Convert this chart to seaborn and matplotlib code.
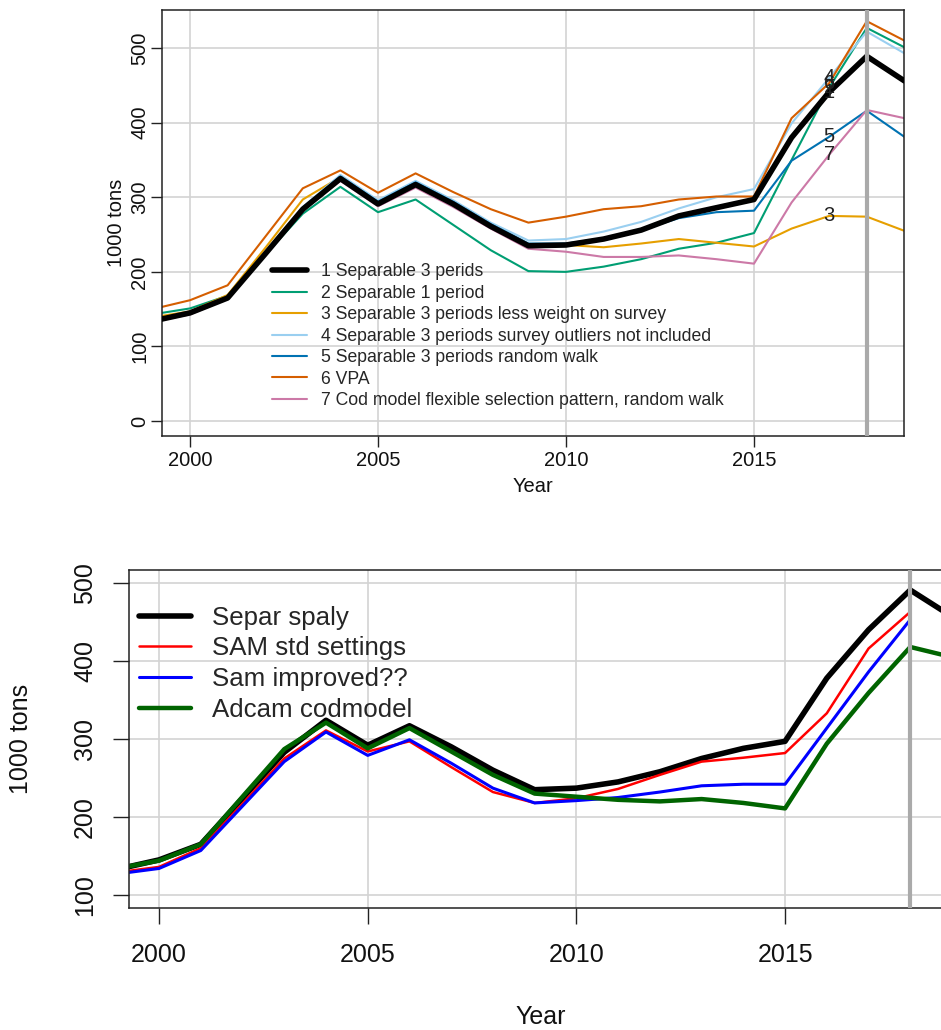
import numpy as np
import pandas as pd
import matplotlib
matplotlib.use("Agg")
import matplotlib.pyplot as plt
import seaborn as sns

years = list(range(1999, 2020))

# ---- top panel series (1000 tons) ----
s1 = [134, 145, 165, 224, 284, 325, 291, 317, 291, 261, 235, 236, 244, 256, 275, 286, 297, 380, 441, 489, 456]
s2 = [143, 151, 168, 223, 278, 314, 280, 297, 263, 229, 201, 200, 207, 217, 231, 239, 252, 350, 447, 527, 501]
s3 = [139, 147, 169, 232, 297, 327, 293, 320, 294, 264, 237, 236, 233, 238, 244, 239, 234, 258, 275, 274, 255]
s4 = [135, 146, 166, 226, 287, 330, 296, 322, 296, 266, 242, 244, 254, 267, 285, 300, 311, 399, 460, 522, 493]
s5 = [135, 146, 166, 226, 286, 328, 294, 320, 294, 264, 238, 238, 245, 256, 272, 280, 282, 349, 381, 416, 381]
s6 = [150, 162, 182, 247, 312, 336, 306, 332, 307, 284, 266, 274, 284, 288, 297, 301, 301, 406, 453, 536, 510]
s7 = [133, 143, 164, 224, 283, 322, 288, 313, 287, 258, 231, 227, 220, 220, 222, 217, 211, 293, 357, 417, 406]
top_labels = ["1 Separable 3 perids", "2 Separable 1 period",
              "3 Separable 3 periods less weight on survey",
              "4 Separable 3 periods survey outliers not included",
              "5 Separable 3 periods random walk", "6 VPA",
              "7 Cod model flexible selection pattern, random walk"]
top_colors = ["#000000", "#009E73", "#E69F00", "#9ACFF0", "#0072B2", "#D55E00", "#CC79A7"]
top_series = [s1, s2, s3, s4, s5, s6, s7]

# ---- bottom panel series ----
b_black = [133, 145, 165, 224, 283, 324, 292, 317, 290, 260, 235, 237, 245, 258, 275, 288, 297, 378, 440, 491, 457]
b_red = [129, 136, 160, 217, 275, 311, 284, 297, 264, 232, 218, 224, 236, 254, 271, 276, 282, 333, 416, 463, np.nan]
b_blue = [127, 134, 157, 214, 271, 309, 279, 299, 269, 237, 218, 221, 225, 232, 240, 242, 242, 314, 386, 453, np.nan]
b_green = [134, 144, 165, 226, 287, 321, 288, 314, 284, 254, 230, 226, 222, 220, 223, 218, 211, 294, 359, 418, 405]
bot_labels = ["Separ spaly", "SAM std settings", "Sam improved??", "Adcam codmodel"]
bot_colors = ["#000000", "#FF0000", "#0000FF", "#006400"]
bot_series = [b_black, b_red, b_blue, b_green]

xticks = [2000, 2005, 2010, 2015]
label_year = 2017
ref_year = 2018

sns.set_theme(style="white")
plt.rcParams["font.family"] = ["Liberation Sans", "DejaVu Sans"]

fig = plt.figure(figsize=(9.41, 10.30), dpi=100)

GRID = "#d3d3d3"

def style_axes(ax, tick_len, fs, xpad, ypad):
    ax.grid(True, color=GRID, lw=1.2)
    ax.set_axisbelow(True)
    for sp in ax.spines.values():
        sp.set_visible(True)
        sp.set_color("#222222")
        sp.set_linewidth(1.1)
    ax.tick_params(axis="both", which="both", direction="out", length=tick_len,
                   width=1.0, color="#222222", labelsize=fs, bottom=True, left=True,
                   top=False, right=False, labelcolor="#111111")
    ax.tick_params(axis="x", pad=xpad)
    ax.tick_params(axis="y", pad=ypad)
    for t in ax.get_yticklabels():
        t.set_rotation(90)
        t.set_va("center")

# ---------------- top panel ----------------
ax1 = fig.add_axes([162 / 941, 1 - 436 / 1030, 742 / 941, 426 / 1030])
lws_top = [4.0, 1.5, 1.5, 1.5, 1.5, 1.5, 1.5]
zs_top = [4, 2, 2, 2, 2, 2, 2]
for s, lab, col, lw, z in zip(top_series, top_labels, top_colors, lws_top, zs_top):
    df = pd.DataFrame({"Year": years, "val": s})
    sns.lineplot(data=df, x="Year", y="val", color=col, lw=lw, label=lab, ax=ax1, zorder=z)
ax1.axvline(ref_year, color="#aaaaaa", lw=3.0, zorder=5)
idx = years.index(label_year)
for i, s in enumerate(top_series):
    ax1.text(label_year, s[idx], str(i + 1), ha="center", va="center",
             fontsize=14.5, color="#222222", zorder=6)
ax1.set_xlim(1999.255, 2018.99)
ax1.set_ylim(-20, 551)
ax1.set_xticks(xticks)
ax1.set_yticks([0, 100, 200, 300, 400, 500])
style_axes(ax1, 8.0, 14.5, 3, 1)
ax1.set_xlabel("Year", fontsize=14.5, color="#111111")
ax1.set_ylabel("1000 tons", fontsize=14.5, color="#111111")
ax1.xaxis.set_label_coords(0.5, -0.096)
ax1.yaxis.set_label_coords(-0.048, 0.5)
leg = ax1.legend(loc="upper left", bbox_to_anchor=(0.1388, 0.4216), frameon=False,
                 fontsize=12.7, handlelength=2.0, handletextpad=0.8,
                 labelspacing=0.25, borderaxespad=0)
for h, lw in zip(leg.get_lines(), lws_top):
    h.set_linewidth(lw)

# ---------------- bottom panel ----------------
ax2 = fig.add_axes([129 / 941, 1 - 908 / 1030, 823 / 941, 338 / 1030])
lws_bot = [4.0, 1.8, 2.2, 3.2]
for s, lab, col, lw in zip(bot_series, bot_labels, bot_colors, lws_bot):
    df = pd.DataFrame({"Year": years, "val": s}).dropna()
    sns.lineplot(data=df, x="Year", y="val", color=col, lw=lw, label=lab, ax=ax2)
ax2.axvline(ref_year, color="#aaaaaa", lw=3.0, zorder=5)
ax2.set_xlim(1999.28, 2019.0)
ax2.set_ylim(83.3, 516.7)
ax2.set_xticks(xticks)
ax2.set_yticks([100, 200, 300, 400, 500])
style_axes(ax2, 11.5, 18, 14, 11.5)
ax2.set_xlabel("Year", fontsize=18, color="#111111")
ax2.set_ylabel("1000 tons", fontsize=18, color="#111111")
ax2.xaxis.set_label_coords(0.5, -0.287)
ax2.yaxis.set_label_coords(-0.117, 0.5)
leg2 = ax2.legend(loc="upper left", bbox_to_anchor=(0.0, 0.925), frameon=False,
                  fontsize=18.6, handlelength=2.0, handletextpad=0.8,
                  labelspacing=0.26, borderaxespad=0)
for h, lw in zip(leg2.get_lines(), lws_bot):
    h.set_linewidth(lw)

fig.savefig("out.png", dpi=100)
